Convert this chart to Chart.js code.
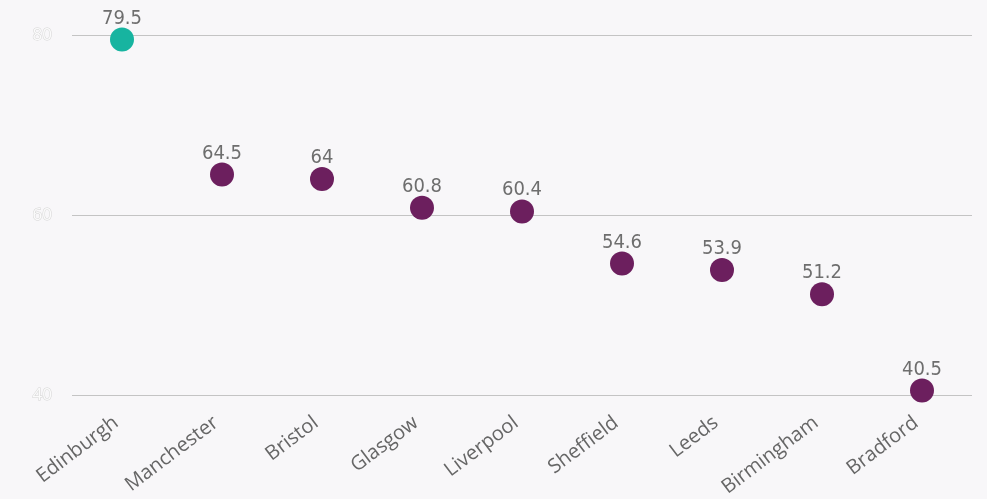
<!DOCTYPE html>
<html>
<head>
<meta charset="utf-8">
<script src="https://cdn.jsdelivr.net/npm/chart.js@4/dist/chart.umd.min.js"></script>
<style>
  html, body { margin: 0; padding: 0; background: #f8f7f9; }
  #wrap { width: 987px; height: 499px; }
</style>
</head>
<body>
<div id="wrap"><canvas id="cityChart"></canvas></div>
<script>
// chart data
const cities = ['Edinburgh', 'Manchester', 'Bristol', 'Glasgow', 'Liverpool', 'Sheffield', 'Leeds', 'Birmingham', 'Bradford'];
const scores = [79.5, 64.5, 64, 60.8, 60.4, 54.6, 53.9, 51.2, 40.5];
const yTicks = [40, 60, 80];

const topColor = '#17b4a0';
const otherColor = '#6c1f5e';

// draws the value above each point
const valueLabels = {
    id: 'valueLabels',
    afterDatasetsDraw(chart) {
        const ctx = chart.ctx;
        const meta = chart.getDatasetMeta(0);
        ctx.save();
        ctx.font = '20px "DejaVu Sans Condensed", "DejaVu Sans", sans-serif';
        ctx.fillStyle = '#6e6e6e';
        ctx.textAlign = 'center';
        ctx.textBaseline = 'alphabetic';
        meta.data.forEach((pt, i) => {
            ctx.fillText(String(scores[i]), pt.x, pt.y - 16);
        });
        ctx.restore();
    }
};

document.addEventListener('DOMContentLoaded', function() {
    const ctx = document.getElementById('cityChart').getContext('2d');
    new Chart(ctx, {
        type: 'line',
        data: {
            labels: cities,
            datasets: [{
                data: scores,
                showLine: false,
                pointRadius: 12,
                pointHoverRadius: 12,
                pointBackgroundColor: scores.map((v, i) => i === 0 ? topColor : otherColor),
                pointBorderColor: scores.map((v, i) => i === 0 ? topColor : otherColor),
                pointBorderWidth: 0,
                clip: false
            }]
        },
        options: {
            responsive: true,
            maintainAspectRatio: false,
            animation: false,
            layout: { padding: { top: 35, right: 15, left: 0, bottom: 0 } },
            plugins: {
                legend: { display: false },
                tooltip: { enabled: false }
            },
            scales: {
                x: {
                    offset: true,
                    grid: { display: false },
                    border: { display: false },
                    ticks: {
                        color: '#666666',
                        font: { family: '"Open Sans", sans-serif', size: 20 },
                        minRotation: 37,
                        maxRotation: 37,
                        padding: 8,
                        labelOffset: -6
                    },
                    afterFit(scale) { scale.height = 104; }
                },
                y: {
                    min: 40,
                    max: 80,
                    afterBuildTicks(scale) {
                        scale.ticks = yTicks.map(v => ({ value: v }));
                    },
                    grid: { color: '#c4c4c4', lineWidth: 1, drawTicks: false },
                    border: { display: false },
                    ticks: {
                        color: '#fbfbfb',
                        textStrokeColor: '#d4d4d4',
                        textStrokeWidth: 1,
                        font: { family: '"Open Sans", sans-serif', size: 17 },
                        padding: 20
                    },
                    afterFit(scale) { scale.width = 72; }
                }
            }
        },
        plugins: [valueLabels]
    });
});
</script>
</body>
</html>
